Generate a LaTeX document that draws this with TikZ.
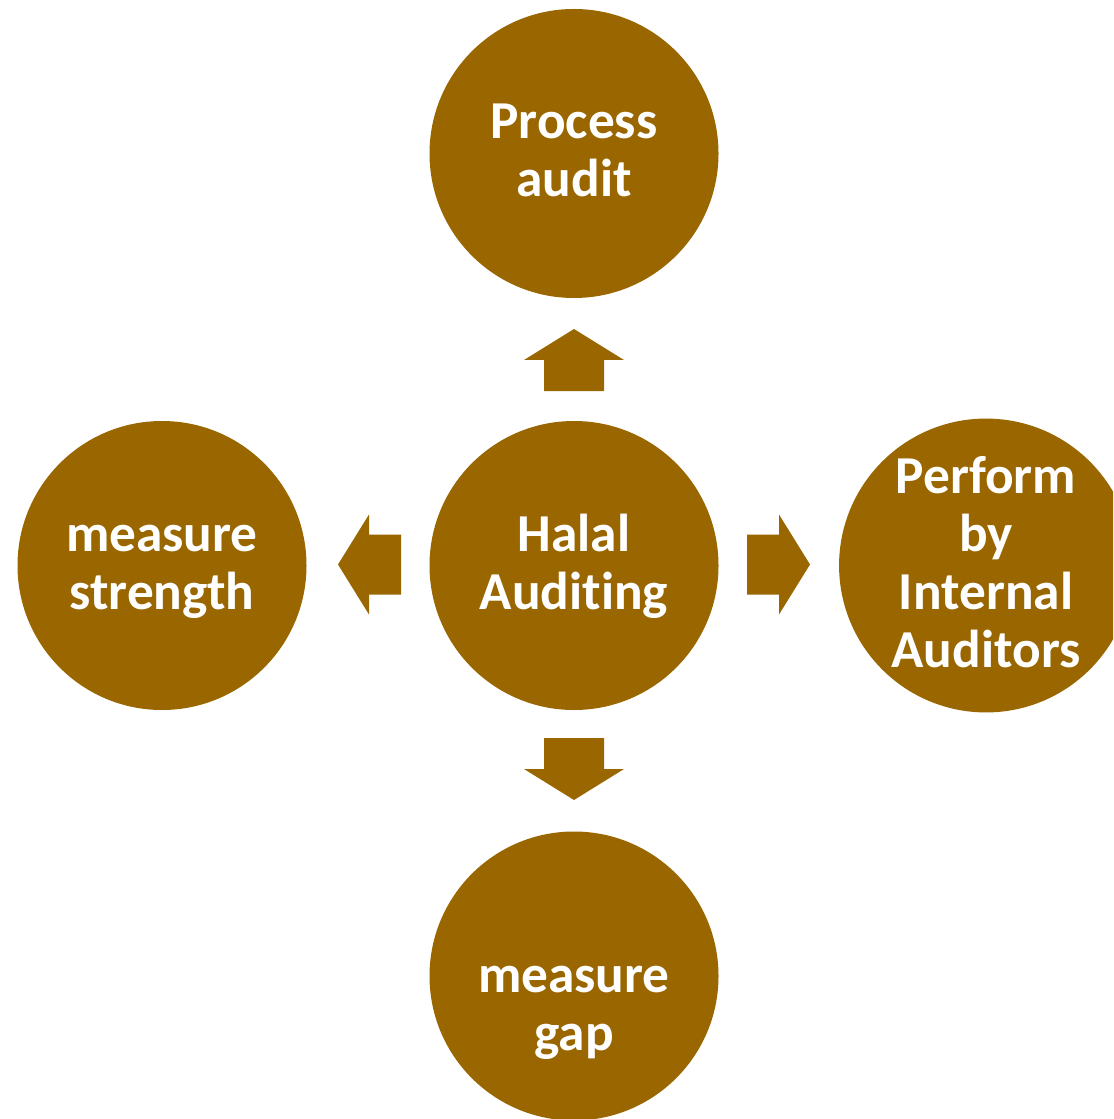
\documentclass[tikz,border=0pt]{standalone}
\usepackage{fontspec}
\setmainfont{Carlito}[Ligatures={NoCommon}]

\definecolor{halalbrown}{RGB}{153,102,0}

\tikzset{every picture/.style={line width=0.75pt}}
\tikzset{
  bubble/.style={circle, fill=halalbrown, draw=none, minimum size=216.75pt, inner sep=0pt,
    text=white, align=center, font=\fontsize{40}{43.5}\selectfont\bfseries},
  bubbletext/.style={text=white, align=center, inner sep=0pt, font=\fontsize{40}{43.5}\selectfont\bfseries},
  blockarrow/.style={fill=halalbrown, draw=none}
}
\newcommand{\ls}{\rule[-8.25pt]{0pt}{38.25pt}}

\begin{document}
\begin{tikzpicture}[x=0.75pt,y=0.75pt,yscale=-1,xscale=1]
\useasboundingbox (0,0) rectangle (1113,1119);
\clip (0,0) rectangle (1113,1119);

%Shape: Circle
\node [bubble] (hub) at (574,565.5) {\ls Halal\\\ls Auditing};
%Shape: Circle
\node [bubble] (process) at (574,153.5) {\ls Process\\\ls audit};
%Shape: Circle
\node [bubble] (strength) at (162,565.5) {\ls measure\\\ls strength};
%Shape: Circle
\node [bubble] (internal) at (986,565.5) {\ls Perform\\\ls by\\\ls Internal\\\ls Auditors};
%Shape: Circle
\node [bubble, label={[bubbletext, yshift=-23.5pt]center:\ls measure\\\ls gap}] (gap) at (574,976) {};

%Shape: Up Arrow
\draw [blockarrow] (544,391) -- (544,360) -- (524,360) -- (574,329) -- (624,360) -- (604,360) -- (604,391) -- cycle ;
%Shape: Down Arrow
\draw [blockarrow] (544,738) -- (544,769) -- (524,769) -- (574,800) -- (624,769) -- (604,769) -- (604,738) -- cycle ;
%Shape: Right Arrow
\draw [blockarrow] (747,534.5) -- (779,534.5) -- (779,514.5) -- (810,564.5) -- (779,614.5) -- (779,594.5) -- (747,594.5) -- cycle ;
%Shape: Left Arrow
\draw [blockarrow] (401,534.5) -- (369,534.5) -- (369,514.5) -- (338,564.5) -- (369,614.5) -- (369,594.5) -- (401,594.5) -- cycle ;

\end{tikzpicture}
\end{document}
